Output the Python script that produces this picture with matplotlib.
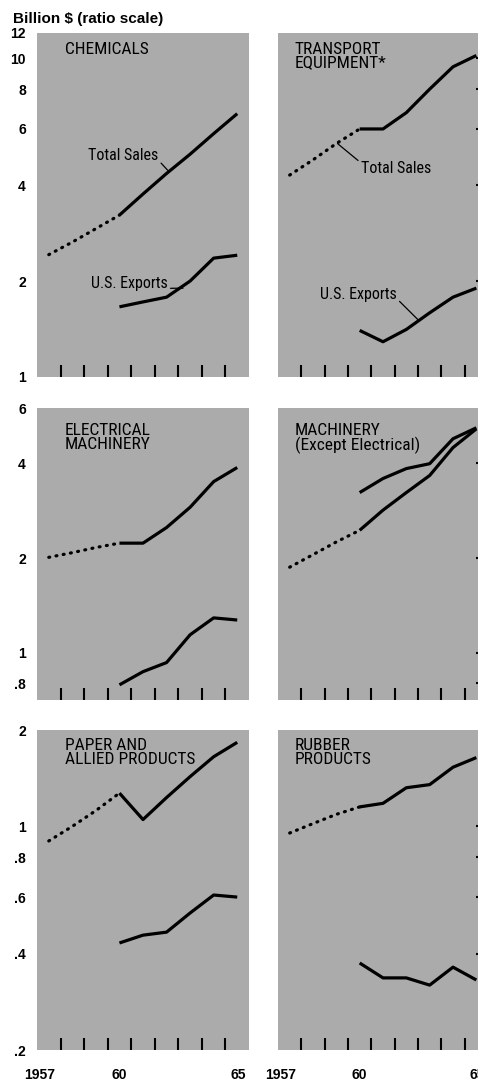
import matplotlib
matplotlib.use('Agg')
import matplotlib.pyplot as plt
from matplotlib import font_manager
from matplotlib.ticker import FixedLocator, NullFormatter

# years
early_years = [1957, 1958, 1959, 1960]
years = [1960, 1961, 1962, 1963, 1964, 1965]

# billion $
chem_sales_early = [2.42, 2.65, 2.92, 3.22]
chem_sales = [3.22, 3.75, 4.35, 5.0, 5.8, 6.7]
chem_exports = [1.66, 1.72, 1.78, 2.0, 2.36, 2.41]

trans_sales_early = [4.3, 4.8, 5.4, 6.0]
trans_sales = [6.0, 6.0, 6.75, 8.0, 9.4, 10.2]
trans_exports = [1.40, 1.29, 1.41, 1.59, 1.78, 1.90]

elec_sales_early = [2.01, 2.08, 2.16, 2.23]
elec_sales = [2.23, 2.23, 2.50, 2.90, 3.50, 3.88]
elec_exports = [0.79, 0.87, 0.93, 1.14, 1.29, 1.27]

mach_sales_early = [1.87, 2.05, 2.25, 2.45]
mach_sales = [2.45, 2.84, 3.23, 3.66, 4.49, 5.15]
mach_exports = [3.23, 3.58, 3.85, 3.99, 4.79, 5.19]

paper_sales_early = [0.90, 1.0, 1.12, 1.27]
paper_sales = [1.27, 1.05, 1.23, 1.43, 1.65, 1.83]
paper_exports = [0.432, 0.457, 0.467, 0.536, 0.610, 0.601]

rubber_sales_early = [0.953, 1.02, 1.09, 1.15]
rubber_sales = [1.15, 1.18, 1.32, 1.35, 1.53, 1.64]
rubber_exports = [0.374, 0.336, 0.336, 0.319, 0.363, 0.331]

titles = ['CHEMICALS', 'TRANSPORT\nEQUIPMENT*',
          'ELECTRICAL\nMACHINERY', 'MACHINERY\n(Except Electrical)',
          'PAPER AND\nALLIED PRODUCTS', 'RUBBER\nPRODUCTS']

# y axis per row: limits, labelled values, labels, inner dashes
row_ylims = [(1, 12), (0.707, 6.0), (0.2, 2.0)]
row_ticks = [[1, 2, 4, 6, 8, 10, 12], [0.8, 1, 2, 4, 6], [0.2, 0.4, 0.6, 0.8, 1, 2]]
row_labels = [['1', '2', '4', '6', '8', '10', '12'], ['.8', '1', '2', '4', '6'],
              ['.2', '.4', '.6', '.8', '1', '2']]
row_dashes = [[2, 4, 6, 8, 10], [0.8, 1, 2, 4], [0.4, 0.6, 0.8, 1]]

year_tick_pos = [1956.6, 1960, 1965.05]
year_tick_labels = ['1957', '60', '65']
year_marks = [1957.5, 1958.5, 1959.5, 1960.5, 1961.5, 1962.5, 1963.5, 1964.5]

# fonts
names = {f.name for f in font_manager.fontManager.ttflist}
narrow = None
for n in ['Liberation Sans Narrow', 'Roboto Condensed', 'Open Sans Condensed', 'DejaVu Sans Condensed']:
    if n in names:
        narrow = n
        break
if narrow:
    label_font = dict(family=narrow, size=11.5)
    title_font = dict(family=narrow, size=12.5)
else:
    label_font = dict(family='Liberation Sans', size=9.5)
    title_font = dict(family='Liberation Sans', size=10)
bold_font = dict(family='Liberation Sans', weight='bold', size=10)

bg = '#ababab'
W, H = 478, 1081
fig = plt.figure(figsize=(W / 100, H / 100), dpi=100)

# panel boxes in pixels: (left, width) and (top, height)
col_px = [(37, 212), (278, 210)]
row_px = [(33, 344), (408, 292), (730, 320)]

panels = [
    (chem_sales_early, chem_sales, chem_exports),
    (trans_sales_early, trans_sales, trans_exports),
    (elec_sales_early, elec_sales, elec_exports),
    (mach_sales_early, mach_sales, mach_exports),
    (paper_sales_early, paper_sales, paper_exports),
    (rubber_sales_early, rubber_sales, rubber_exports),
]

axes = []
for i, (early, sales, exports) in enumerate(panels):
    r, c = divmod(i, 2)
    x0, w = col_px[c]
    y0, h = row_px[r]
    ax = fig.add_axes([x0 / W, (H - y0 - h) / H, w / W, h / H])
    ax.set_facecolor(bg)
    for s in ax.spines.values():
        s.set_visible(False)
    ax.set_yscale('log')
    ax.set_ylim(*row_ylims[r])
    ax.set_xlim(1956.5, 1965.5)

    ax.plot(early_years, early, color='black', lw=2.3,
            linestyle=(0, (0.3, 2.0)), dash_capstyle='round')
    ax.plot(years, sales, color='black', lw=2.3, solid_capstyle='butt')
    ax.plot(years, exports, color='black', lw=2.3, solid_capstyle='butt')

    # y axis
    if c == 0:
        ax.set_yticks(row_ticks[r])
        ax.set_yticklabels(row_labels[r], fontdict=bold_font)
        ax.tick_params(axis='y', which='major', length=0, pad=8)
        ax.yaxis.set_minor_locator(FixedLocator(row_dashes[r]))
        ax.yaxis.set_minor_formatter(NullFormatter())
        ax.tick_params(axis='y', which='minor', direction='in', length=8.6, width=1.5,
                       left=True, right=False)
    else:
        ax.set_yticks([])
        ax.yaxis.set_minor_locator(FixedLocator(row_dashes[r]))
        ax.yaxis.set_minor_formatter(NullFormatter())
        ax.tick_params(axis='y', which='minor', direction='in', length=8.6, width=1.5,
                       left=False, right=True, labelleft=False)

    # x axis
    ax.xaxis.set_minor_locator(FixedLocator(year_marks))
    ax.xaxis.set_minor_formatter(NullFormatter())
    ax.tick_params(axis='x', which='minor', direction='in', length=8.6, width=1.5, bottom=True)
    if r == 2:
        ax.set_xticks(year_tick_pos)
        ax.set_xticklabels(year_tick_labels, fontdict=bold_font)
        ax.tick_params(axis='x', which='major', length=0, pad=13)
    else:
        ax.set_xticks([])

    ax.text(0.13 if c == 0 else 0.08, 0.975 if r != 1 else 0.95, titles[i],
            transform=ax.transAxes, ha='left', va='top', linespacing=0.92, **title_font)
    axes.append(ax)

leader = dict(arrowstyle='-', color='black', lw=0.9, shrinkA=0, shrinkB=0)

# chemicals labels
axes[0].annotate('Total Sales', xy=(1962.05, 4.45), xytext=(1961.65, 4.95),
                 ha='right', va='center', **label_font,
                 arrowprops=dict(relpos=(1.0, 0.2), **leader))
axes[0].annotate('U.S. Exports', xy=(1962.7, 1.9), xytext=(1962.05, 1.96),
                 ha='right', va='center', **label_font,
                 arrowprops=dict(relpos=(1.0, 0.2), **leader))
# transport labels
axes[1].annotate('Total Sales', xy=(1959.05, 5.4), xytext=(1960.05, 4.5),
                 ha='left', va='center', **label_font,
                 arrowprops=dict(relpos=(0.0, 0.9), **leader))
axes[1].annotate('U.S. Exports', xy=(1962.55, 1.5), xytext=(1958.3, 1.82),
                 ha='left', va='center', **label_font,
                 arrowprops=dict(relpos=(1.0, 0.2), **leader))

fig.text(13 / W, 1 - 23 / H, 'Billion $ (ratio scale)', ha='left', va='baseline',
         family='Liberation Sans', weight='bold', size=11)

fig.savefig('out.png', dpi=100)
